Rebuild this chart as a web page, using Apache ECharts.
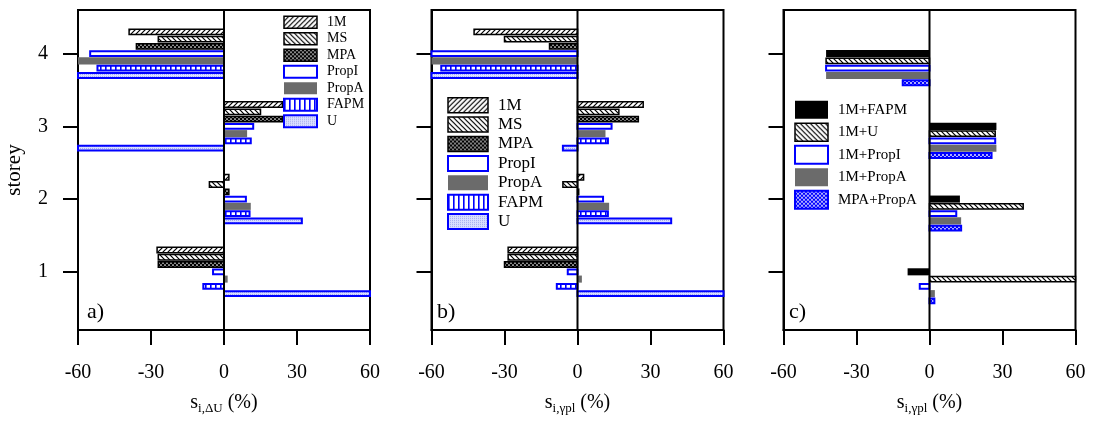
<!DOCTYPE html>
<html><head><meta charset="utf-8">
<script src="https://cdn.jsdelivr.net/npm/echarts@6/dist/echarts.min.js"></script>
<style>html,body{margin:0;padding:0;background:#fff}#c{width:1093px;height:422px}</style>
</head><body><div id="c"></div><script>
// ---------- data ----------
const storeys = [1, 2, 3, 4];
const xTicks = [-60, -30, 0, 30, 60];
const namesAB = ['1M', 'MS', 'MPA', 'PropI', 'PropA', 'FAPM', 'U'];
const namesC = ['1M+FAPM', '1M+U', '1M+PropI', '1M+PropA', 'MPA+PropA'];
// panel a) s_i,ΔU (%) per storey 1..4
const a_1M    = [-27.5, 2, 24, -39];
const a_MS    = [-27, -6, 15, -27];
const a_MPA   = [-27, 2, 24, -36];
const a_PropI = [-4.5, 9, 12, -55];
const a_PropA = [1.5, 11, 9.5, -60];
const a_FAPM  = [-8.5, 10.5, 11, -52];
const a_U     = [60, 32, -60, -60];
// panel b) s_i,γpl (%)
const b_1M    = [-28.5, 2.5, 27, -42.5];
const b_MS    = [-28.5, -6, 17, -30];
const b_MPA   = [-30, 0.5, 25, -11.5];
const b_PropI = [-4, 10.5, 14, -60];
const b_PropA = [1.8, 13, 11.5, -60];
const b_FAPM  = [-8.5, 12.5, 12.5, -56];
const b_U     = [60, 38.5, -6, -60];
// panel c) s_i,γpl (%)
const c_1M_FAPM  = [-9, 12.5, 27.5, -42.5];
const c_1M_U     = [60, 38.5, 27, -42.5];
const c_1M_PropI = [-4, 11, 27, -42.5];
const c_1M_PropA = [2.2, 13, 27.5, -42.5];
const c_MPA_PropA = [2, 13, 25.5, -11];

// ---------- patterns ----------
function mk(w, h, draw) { const c = document.createElement('canvas'); c.width = w; c.height = h; const g = c.getContext('2d'); draw(g, w, h); return { image: c, repeat: 'repeat' }; }
const BLUE = '#0000ff', GRAY = '#6b6b6b';
const hatchF = mk(5, 5, (g, w, h) => { g.fillStyle = '#fff'; g.fillRect(0, 0, w, h); g.strokeStyle = '#000'; g.lineWidth = 1.2; g.beginPath(); g.moveTo(0, h); g.lineTo(w, 0); g.moveTo(-1, 1); g.lineTo(1, -1); g.moveTo(w - 1, h + 1); g.lineTo(w + 1, h - 1); g.stroke(); });
const hatchB = mk(5, 5, (g, w, h) => { g.fillStyle = '#fff'; g.fillRect(0, 0, w, h); g.strokeStyle = '#000'; g.lineWidth = 1.2; g.beginPath(); g.moveTo(0, 0); g.lineTo(w, h); g.moveTo(w - 1, -1); g.lineTo(w + 1, 1); g.moveTo(-1, h - 1); g.lineTo(1, h + 1); g.stroke(); });
const dotsK = mk(4, 4, (g, w, h) => { g.fillStyle = '#000'; g.fillRect(0, 0, w, h); g.fillStyle = '#fff'; [[1, 1], [3, 3]].forEach(p => { g.beginPath(); g.arc(p[0], p[1], 0.85, 0, 7); g.fill(); }); });
const dotsB = mk(4, 4, (g, w, h) => { g.fillStyle = BLUE; g.fillRect(0, 0, w, h); g.fillStyle = '#fff'; [[1, 1], [3, 3]].forEach(p => { g.beginPath(); g.arc(p[0], p[1], 0.9, 0, 7); g.fill(); }); });
const vStripe = mk(5, 2, (g, w, h) => { g.fillStyle = '#fff'; g.fillRect(0, 0, w, h); g.fillStyle = BLUE; g.fillRect(0, 0, 1.6, h); });
const dotsU = mk(2, 2, (g, w, h) => { g.fillStyle = '#d9deff'; g.fillRect(0, 0, w, h); g.fillStyle = '#a4acf0'; g.fillRect(0, 0, 1, 1); });

const STY = {
  '1M': { fill: hatchF, stroke: '#000', lw: 1.5 },
  'MS': { fill: hatchB, stroke: '#000', lw: 1.5 },
  'MPA': { fill: dotsK, stroke: '#000', lw: 1.5 },
  'PropI': { fill: '#fff', stroke: BLUE, lw: 2 },
  'PropA': { fill: GRAY, stroke: null, lw: 0 },
  'FAPM': { fill: vStripe, stroke: BLUE, lw: 2 },
  'U': { fill: dotsU, stroke: BLUE, lw: 2 },
  '1M+FAPM': { fill: '#000', stroke: null, lw: 0 },
  '1M+U': { fill: hatchB, stroke: '#000', lw: 1.5 },
  '1M+PropI': { fill: '#fff', stroke: BLUE, lw: 2 },
  '1M+PropA': { fill: GRAY, stroke: null, lw: 0 },
  'MPA+PropA': { fill: dotsB, stroke: BLUE, lw: 2 }
};

const YMIN = 0.2, YMAX = 4.6;
const FONT = '"Liberation Serif", "Times New Roman", serif';

function barRender(offset, key) {
  return function (params, api) {
    const v = api.value(0), s = api.value(1);
    if (!v) return null;
    const yc = s + offset;
    const p0 = api.coord([0, yc]), p1 = api.coord([v, yc]);
    const st = STY[key];
    const step = Math.abs(api.size([0, 0.1])[1]);
    const bh = st.lw ? step - st.lw - 0.4 : step - 0.2;
    const x = Math.min(p0[0], p1[0]), w = Math.abs(p1[0] - p0[0]);
    return { type: 'rect', shape: { x: x, y: p0[1] - bh / 2, width: w, height: bh },
      style: { fill: st.fill, stroke: st.stroke || null, lineWidth: st.lw } };
  };
}
function zeroRender(params, api) {
  const a = api.coord([0, YMIN]), b = api.coord([0, YMAX]);
  return { type: 'line', shape: { x1: a[0], y1: a[1], x2: b[0], y2: b[1] }, style: { stroke: '#000', lineWidth: 2 } };
}

const panels = [
  { left: 78, names: namesAB, vals: [a_1M, a_MS, a_MPA, a_PropI, a_PropA, a_FAPM, a_U], offs: [0.3, 0.2, 0.1, 0, -0.1, -0.2, -0.3], sub: 'i,ΔU' },
  { left: 431.5, names: namesAB, vals: [b_1M, b_MS, b_MPA, b_PropI, b_PropA, b_FAPM, b_U], offs: [0.3, 0.2, 0.1, 0, -0.1, -0.2, -0.3], sub: 'i,γpl' },
  { left: 783.5, names: namesC, vals: [c_1M_FAPM, c_1M_U, c_1M_PropI, c_1M_PropA, c_MPA_PropA], offs: [0, -0.1, -0.2, -0.3, -0.4], sub: 'i,γpl' }
];

const grid = [], xAxis = [], yAxis = [], series = [];
panels.forEach((p, i) => {
  grid.push({ left: p.left, top: 10, width: 292, height: 320, show: true, borderColor: '#000', borderWidth: 2, backgroundColor: 'transparent' });
  xAxis.push({
    type: 'value', gridIndex: i, min: xTicks[0], max: xTicks[xTicks.length - 1], interval: 30,
    axisLine: { onZero: false, lineStyle: { color: '#000', width: 2 } },
    axisTick: { length: 15, lineStyle: { color: '#000', width: 2 } },
    axisLabel: { fontSize: 20, fontFamily: FONT, color: '#000', margin: 33 },
    splitLine: { show: false },
    name: '{s|s}{sub|' + p.sub + '}{p| (%)}', nameLocation: 'middle', nameGap: 60,
    nameTextStyle: { color: '#000', rich: {
      s: { fontSize: 20, fontFamily: FONT, color: '#000' },
      sub: { fontSize: 13, fontFamily: FONT, color: '#000', padding: [12, 0, 0, 0] },
      p: { fontSize: 20, fontFamily: FONT, color: '#000' } } }
  });
  yAxis.push({
    type: 'value', gridIndex: i, min: YMIN, max: YMAX,
    axisLine: { onZero: false, lineStyle: { color: '#000', width: 2 } },
    axisTick: { customValues: storeys, length: 15, lineStyle: { color: '#000', width: 2 } },
    axisLabel: { show: i === 0, customValues: storeys, fontSize: 20, fontFamily: FONT, color: '#000', margin: 30 },
    splitLine: { show: false },
    name: i === 0 ? 'storey' : '', nameLocation: 'middle', nameRotate: 90, nameGap: 53,
    nameTextStyle: { fontSize: 21, fontFamily: FONT, color: '#000' }
  });
  series.push({ type: 'custom', xAxisIndex: i, yAxisIndex: i, data: [[0, 0]], renderItem: zeroRender, silent: true, z: 5 });
  p.names.forEach((n, k) => {
    const st = STY[n];
    series.push({
      type: 'custom', name: n, xAxisIndex: i, yAxisIndex: i,
      data: storeys.map((s, j) => [p.vals[k][j], s]),
      encode: { x: 0, y: 1 },
      renderItem: barRender(p.offs[k], n),
      itemStyle: { color: st.fill, borderColor: st.stroke || 'transparent', borderWidth: st.lw },
      z: 3
    });
  });
});

function legendData(names) {
  return names.map(n => ({ name: n, icon: 'rect', itemStyle: { color: STY[n].fill, borderColor: STY[n].stroke || 'transparent', borderWidth: STY[n].lw } }));
}
const legend = [
  { orient: 'vertical', left: 283, top: 14, padding: 0, itemWidth: 33, itemHeight: 12, itemGap: 0, selectedMode: false,
    data: legendData(namesAB), textStyle: { fontSize: 14, fontFamily: FONT, color: '#000', lineHeight: 16.5, padding: [0, 0, 0, 5] } },
  { orient: 'vertical', left: 447, top: 95.5, padding: 0, itemWidth: 40, itemHeight: 15, itemGap: 0, selectedMode: false,
    data: legendData(namesAB), textStyle: { fontSize: 17, fontFamily: FONT, color: '#000', lineHeight: 19.4, padding: [0, 0, 0, 5] } },
  { orient: 'vertical', left: 794, top: 98.5, padding: 0, itemWidth: 33, itemHeight: 18, itemGap: 0, selectedMode: false,
    data: legendData(namesC), textStyle: { fontSize: 15, fontFamily: FONT, color: '#000', lineHeight: 22.5, padding: [0, 0, 0, 5] } }
];

const graphic = [
  { type: 'text', left: 87, top: 301, style: { text: 'a)', font: '22px ' + FONT, fill: '#000' } },
  { type: 'text', left: 437, top: 301, style: { text: 'b)', font: '22px ' + FONT, fill: '#000' } },
  { type: 'text', left: 789, top: 301, style: { text: 'c)', font: '22px ' + FONT, fill: '#000' } }
];

const chart = echarts.init(document.getElementById('c'), null, { renderer: 'canvas' });
chart.setOption({ animation: false, backgroundColor: '#fff', grid, xAxis, yAxis, series, legend, graphic });
</script></body></html>
